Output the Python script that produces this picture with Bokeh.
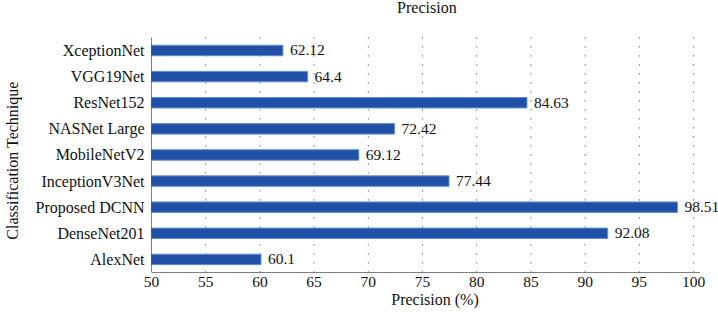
from bokeh.plotting import figure
from bokeh.models import ColumnDataSource, Range1d, LabelSet, Label, FixedTicker
from bokeh.embed import file_html
from bokeh.resources import INLINE

techniques = ["AlexNet", "DenseNet201", "Proposed DCNN", "InceptionV3Net", "MobileNetV2",
              "NASNet Large", "ResNet152", "VGG19Net", "XceptionNet"]
precision = [60.1, 92.08, 98.51, 77.44, 69.12, 72.42, 84.63, 64.4, 62.12]
labels = ["60.1", "92.08", "98.51", "77.44", "69.12", "72.42", "84.63", "64.4", "62.12"]
x_ticks = [50, 55, 60, 65, 70, 75, 80, 85, 90, 95, 100]

FONT = "Liberation Serif"
X0, X_AXIS_END, X1 = 50, 100.6, 102.3
n = len(techniques)
pos = list(range(n))
Y_BOTTOM, Y_AREA_TOP, Y_TOP = -0.5, n - 0.5, 9.914

src = ColumnDataSource(dict(y=pos, v=precision, lab=labels, base=[X0] * n))

p = figure(width=718, height=317, output_backend="svg", toolbar_location=None, title=None,
           y_range=Range1d(Y_BOTTOM, Y_TOP), x_range=Range1d(X0, X1),
           min_border_left=150, min_border_right=0, min_border_top=0, min_border_bottom=45)

# dotted vertical grid lines (plot area only)
gx = x_ticks[1:]
p.segment(x0=gx, x1=gx, y0=[Y_AREA_TOP] * len(gx), y1=[Y_BOTTOM] * len(gx),
          line_color="#333333", line_width=1, line_dash="1 8")

p.hbar(y="y", left="base", right="v", height=0.4, source=src,
       fill_color="#2151a6", line_color="#5d8fd8", line_width=1)

# axis lines limited to the plot area
p.segment(x0=[X0], x1=[X_AXIS_END], y0=[Y_BOTTOM], y1=[Y_BOTTOM], line_color="black", line_width=1)
p.segment(x0=[X0], x1=[X0], y0=[Y_BOTTOM], y1=[Y_AREA_TOP], line_color="black", line_width=1)

p.add_layout(LabelSet(x="v", y="y", text="lab", source=src, x_offset=7, y_offset=0,
                      text_baseline="middle", text_font=FONT, text_font_size="15.5px",
                      text_color="#111111"))

p.add_layout(Label(x=75.4, y=9.665, text="Precision", text_align="center",
                   text_baseline="middle", text_font=FONT, text_font_size="16px",
                   text_color="#111111"))

p.xaxis.ticker = FixedTicker(ticks=x_ticks)
p.yaxis.ticker = FixedTicker(ticks=pos)
p.yaxis.major_label_overrides = {i: t for i, t in zip(pos, techniques)}
p.xaxis.axis_label = "Precision (%)"
p.yaxis.axis_label = "Classification Technique" + "\u00a0" * 12
for ax in (p.xaxis, p.yaxis):
    ax.axis_label_text_font = FONT
    ax.axis_label_text_font_size = "16px"
    ax.axis_label_text_font_style = "normal"
    ax.axis_label_text_color = "#111111"
    ax.major_label_text_font = FONT
    ax.major_label_text_color = "#111111"
    ax.major_tick_line_color = None
    ax.minor_tick_line_color = None
    ax.major_tick_out = 0
    ax.major_tick_in = 0
    ax.minor_tick_out = 0
    ax.minor_tick_in = 0
    ax.axis_line_color = None
p.xaxis.major_label_text_font_size = "15.5px"
p.yaxis.major_label_text_font_size = "16px"
p.xaxis.major_label_standoff = 4
p.xaxis.axis_label_standoff = 1
p.yaxis.major_label_standoff = 7
p.yaxis.axis_label_standoff = 12

p.xgrid.grid_line_color = None
p.ygrid.grid_line_color = None
p.outline_line_color = None
p.background_fill_color = "white"
p.border_fill_color = "white"

open("out.html", "w").write(file_html(p, INLINE))
